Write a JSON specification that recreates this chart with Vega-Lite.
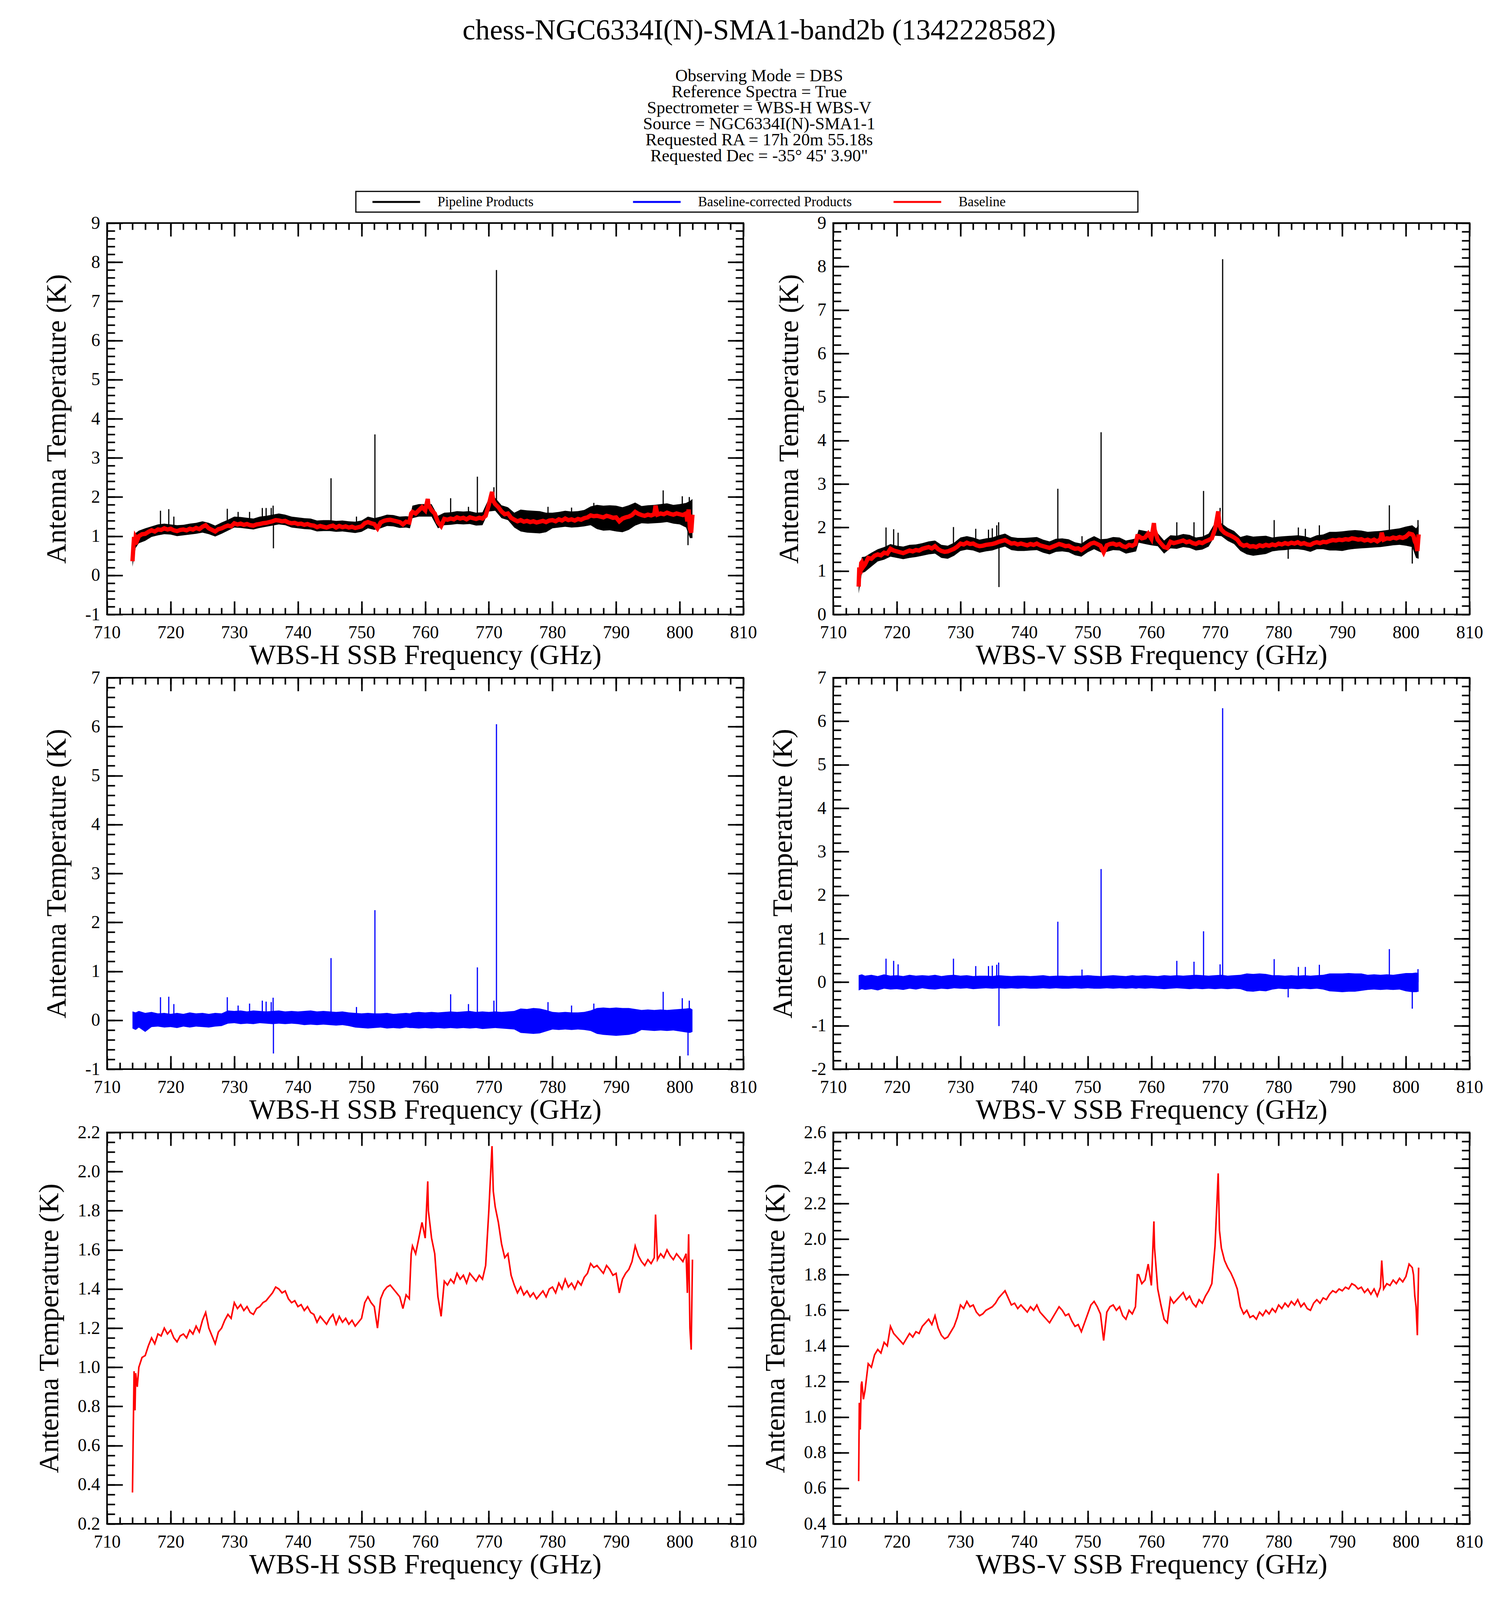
{
  "$schema": "https://vega.github.io/schema/vega-lite/v6.json",
  "background": "white",
  "padding": {"left": 88, "top": 41, "right": 40, "bottom": 30},
  "title": {
    "text": "chess-NGC6334I(N)-SMA1-band2b (1342228582)",
    "subtitle": [
      "Observing Mode = DBS",
      "Reference Spectra = True",
      "Spectrometer = WBS-H WBS-V",
      "Source = NGC6334I(N)-SMA1-1",
      "Requested RA = 17h 20m 55.18s",
      "Requested Dec = -35° 45' 3.90\""
    ],
    "anchor": "middle",
    "font": "Liberation Serif",
    "fontSize": 74,
    "fontWeight": "normal",
    "color": "black",
    "subtitleFont": "Liberation Serif",
    "subtitleFontSize": 44,
    "subtitleLineHeight": 41,
    "subtitleColor": "black",
    "subtitlePadding": 56,
    "offset": 66
  },
  "datasets": {
    "base": [
      {"f":714,"h":0.36,"v":0.64},{"f":714.1,"h":0.62,"v":1.08},{"f":714.25,"h":0.98,"v":0.93},{"f":714.4,"h":0.78,"v":1.18},{"f":714.5,"h":0.97,"v":1.2},{"f":714.75,"h":0.9,"v":1.1},
      {"f":715,"h":1.0,"v":1.15},{"f":715.5,"h":1.05,"v":1.3},{"f":716,"h":1.06,"v":1.28},{"f":716.5,"h":1.11,"v":1.35},{"f":717,"h":1.15,"v":1.38},{"f":717.5,"h":1.12,"v":1.36},
      {"f":718,"h":1.17,"v":1.42},{"f":718.5,"h":1.16,"v":1.4},{"f":719,"h":1.2,"v":1.51},{"f":719.5,"h":1.17,"v":1.47},{"f":720,"h":1.19,"v":1.45},{"f":720.5,"h":1.15,"v":1.43},
      {"f":721,"h":1.13,"v":1.41},{"f":721.5,"h":1.16,"v":1.44},{"f":722,"h":1.17,"v":1.47},{"f":722.5,"h":1.15,"v":1.45},{"f":723,"h":1.19,"v":1.48},{"f":723.5,"h":1.17,"v":1.47},
      {"f":724,"h":1.21,"v":1.51},{"f":724.5,"h":1.18,"v":1.53},{"f":725,"h":1.24,"v":1.55},{"f":725.5,"h":1.28,"v":1.52},{"f":726,"h":1.2,"v":1.57},{"f":726.5,"h":1.16,"v":1.5},
      {"f":727,"h":1.12,"v":1.46},{"f":727.5,"h":1.18,"v":1.44},{"f":728,"h":1.2,"v":1.45},{"f":728.5,"h":1.24,"v":1.48},{"f":729,"h":1.27,"v":1.51},{"f":729.5,"h":1.25,"v":1.56},
      {"f":730,"h":1.33,"v":1.63},{"f":730.5,"h":1.3,"v":1.61},{"f":731,"h":1.32,"v":1.65},{"f":731.5,"h":1.29,"v":1.62},{"f":732,"h":1.31,"v":1.63},{"f":732.5,"h":1.28,"v":1.59},
      {"f":733,"h":1.27,"v":1.57},{"f":733.5,"h":1.3,"v":1.58},{"f":734,"h":1.31,"v":1.6},{"f":734.5,"h":1.33,"v":1.61},{"f":735,"h":1.34,"v":1.62},{"f":735.5,"h":1.36,"v":1.64},
      {"f":736,"h":1.38,"v":1.67},{"f":736.5,"h":1.41,"v":1.69},{"f":737,"h":1.4,"v":1.71},{"f":737.5,"h":1.38,"v":1.67},{"f":738,"h":1.39,"v":1.63},{"f":738.5,"h":1.35,"v":1.64},
      {"f":739,"h":1.33,"v":1.61},{"f":739.5,"h":1.34,"v":1.63},{"f":740,"h":1.31,"v":1.61},{"f":740.5,"h":1.32,"v":1.59},{"f":741,"h":1.29,"v":1.62},{"f":741.5,"h":1.31,"v":1.6},
      {"f":742,"h":1.28,"v":1.63},{"f":742.5,"h":1.27,"v":1.59},{"f":743,"h":1.23,"v":1.57},{"f":743.5,"h":1.26,"v":1.55},{"f":744,"h":1.24,"v":1.53},{"f":744.5,"h":1.22,"v":1.56},
      {"f":745,"h":1.25,"v":1.59},{"f":745.5,"h":1.27,"v":1.62},{"f":746,"h":1.22,"v":1.6},{"f":746.5,"h":1.26,"v":1.57},{"f":747,"h":1.23,"v":1.58},{"f":747.5,"h":1.25,"v":1.54},
      {"f":748,"h":1.22,"v":1.51},{"f":748.5,"h":1.24,"v":1.52},{"f":749,"h":1.21,"v":1.48},{"f":749.5,"h":1.23,"v":1.53},{"f":750,"h":1.25,"v":1.58},{"f":750.5,"h":1.33,"v":1.63},
      {"f":751,"h":1.36,"v":1.65},{"f":751.5,"h":1.33,"v":1.62},{"f":752,"h":1.31,"v":1.58},{"f":752.5,"h":1.2,"v":1.43},{"f":753,"h":1.35,"v":1.59},{"f":753.5,"h":1.39,"v":1.62},
      {"f":754,"h":1.41,"v":1.63},{"f":754.5,"h":1.42,"v":1.6},{"f":755,"h":1.4,"v":1.62},{"f":755.5,"h":1.38,"v":1.57},{"f":756,"h":1.36,"v":1.55},{"f":756.5,"h":1.3,"v":1.6},
      {"f":757,"h":1.37,"v":1.58},{"f":757.5,"h":1.35,"v":1.62},{"f":757.8,"h":1.58,"v":1.8},{"f":758,"h":1.62,"v":1.8},{"f":758.5,"h":1.58,"v":1.75},{"f":759,"h":1.66,"v":1.77},
      {"f":759.5,"h":1.74,"v":1.86},{"f":760,"h":1.66,"v":1.74},{"f":760.4,"h":1.95,"v":2.1},{"f":760.5,"h":1.8,"v":1.95},{"f":761,"h":1.66,"v":1.72},{"f":761.5,"h":1.58,"v":1.63},
      {"f":762,"h":1.36,"v":1.55},{"f":762.5,"h":1.26,"v":1.53},{"f":763,"h":1.44,"v":1.67},{"f":763.5,"h":1.42,"v":1.64},{"f":764,"h":1.45,"v":1.66},{"f":764.5,"h":1.43,"v":1.68},
      {"f":765,"h":1.48,"v":1.7},{"f":765.5,"h":1.45,"v":1.66},{"f":766,"h":1.47,"v":1.68},{"f":766.5,"h":1.43,"v":1.64},{"f":767,"h":1.48,"v":1.62},{"f":767.5,"h":1.46,"v":1.66},
      {"f":768,"h":1.44,"v":1.64},{"f":768.5,"h":1.47,"v":1.68},{"f":769,"h":1.45,"v":1.71},{"f":769.5,"h":1.52,"v":1.75},{"f":770,"h":1.8,"v":1.96},{"f":770.3,"h":2.0,"v":2.2},
      {"f":770.5,"h":2.13,"v":2.37},{"f":770.7,"h":1.9,"v":2.05},{"f":771,"h":1.82,"v":1.95},{"f":771.5,"h":1.74,"v":1.88},{"f":772,"h":1.63,"v":1.84},{"f":772.5,"h":1.56,"v":1.81},
      {"f":773,"h":1.58,"v":1.77},{"f":773.5,"h":1.47,"v":1.72},{"f":774,"h":1.42,"v":1.62},{"f":774.5,"h":1.38,"v":1.58},{"f":775,"h":1.41,"v":1.6},{"f":775.5,"h":1.37,"v":1.56},
      {"f":776,"h":1.39,"v":1.57},{"f":776.5,"h":1.36,"v":1.55},{"f":777,"h":1.38,"v":1.59},{"f":777.5,"h":1.35,"v":1.57},{"f":778,"h":1.37,"v":1.6},{"f":778.5,"h":1.39,"v":1.58},
      {"f":779,"h":1.36,"v":1.61},{"f":779.5,"h":1.4,"v":1.59},{"f":780,"h":1.41,"v":1.63},{"f":780.5,"h":1.38,"v":1.61},{"f":781,"h":1.43,"v":1.64},{"f":781.5,"h":1.4,"v":1.62},
      {"f":782,"h":1.45,"v":1.65},{"f":782.5,"h":1.41,"v":1.63},{"f":783,"h":1.43,"v":1.66},{"f":783.5,"h":1.4,"v":1.62},{"f":784,"h":1.44,"v":1.64},{"f":784.5,"h":1.42,"v":1.61},
      {"f":785,"h":1.46,"v":1.6},{"f":785.5,"h":1.48,"v":1.64},{"f":786,"h":1.53,"v":1.66},{"f":786.5,"h":1.51,"v":1.64},{"f":787,"h":1.52,"v":1.67},{"f":787.5,"h":1.5,"v":1.66},
      {"f":788,"h":1.48,"v":1.69},{"f":788.5,"h":1.52,"v":1.71},{"f":789,"h":1.5,"v":1.7},{"f":789.5,"h":1.47,"v":1.72},{"f":790,"h":1.48,"v":1.71},{"f":790.5,"h":1.38,"v":1.73},
      {"f":791,"h":1.45,"v":1.72},{"f":791.5,"h":1.48,"v":1.75},{"f":792,"h":1.5,"v":1.74},{"f":792.5,"h":1.54,"v":1.72},{"f":793,"h":1.62,"v":1.73},{"f":793.5,"h":1.57,"v":1.7},
      {"f":794,"h":1.54,"v":1.72},{"f":794.5,"h":1.52,"v":1.69},{"f":795,"h":1.55,"v":1.72},{"f":795.5,"h":1.53,"v":1.68},{"f":796,"h":1.56,"v":1.73},{"f":796.2,"h":1.78,"v":1.88},
      {"f":796.5,"h":1.55,"v":1.72},{"f":797,"h":1.58,"v":1.75},{"f":797.5,"h":1.56,"v":1.74},{"f":798,"h":1.6,"v":1.77},{"f":798.5,"h":1.57,"v":1.75},{"f":799,"h":1.55,"v":1.78},
      {"f":799.5,"h":1.58,"v":1.76},{"f":800,"h":1.56,"v":1.79},{"f":800.5,"h":1.54,"v":1.86},{"f":801,"h":1.58,"v":1.84},{"f":801.2,"h":1.38,"v":1.8},{"f":801.4,"h":1.68,"v":1.68},
      {"f":801.6,"h":1.2,"v":1.62},{"f":801.8,"h":1.09,"v":1.46},{"f":802,"h":1.55,"v":1.84}
    ],
    "noise": [
      {"f":714,"hl":0.22,"hh":0.55,"vl":0.48,"vh":0.95,"cl":-0.17,"ch":0.18,"dl":-0.19,"dh":0.16},
      {"f":714.5,"hl":0.7,"hh":1.08,"vl":0.95,"vh":1.32,"cl":-0.2,"ch":0.16,"dl":-0.16,"dh":0.18},
      {"f":715,"hl":0.82,"hh":1.14,"vl":0.98,"vh":1.33,"cl":-0.15,"ch":0.19,"dl":-0.18,"dh":0.15},
      {"f":716,"hl":0.88,"hh":1.2,"vl":1.1,"vh":1.42,"cl":-0.24,"ch":0.15,"dl":-0.16,"dh":0.17},
      {"f":717,"hl":0.98,"hh":1.25,"vl":1.22,"vh":1.5,"cl":-0.14,"ch":0.17,"dl":-0.19,"dh":0.14},
      {"f":718,"hl":1.02,"hh":1.3,"vl":1.26,"vh":1.55,"cl":-0.13,"ch":0.14,"dl":-0.15,"dh":0.18},
      {"f":719,"hl":1.05,"hh":1.32,"vl":1.33,"vh":1.62,"cl":-0.15,"ch":0.15,"dl":-0.17,"dh":0.15},
      {"f":720,"hl":1.04,"hh":1.3,"vl":1.3,"vh":1.58,"cl":-0.14,"ch":0.13,"dl":-0.16,"dh":0.16},
      {"f":721,"hl":1.0,"hh":1.28,"vl":1.27,"vh":1.56,"cl":-0.16,"ch":0.15,"dl":-0.18,"dh":0.14},
      {"f":722,"hl":1.02,"hh":1.29,"vl":1.3,"vh":1.6,"cl":-0.13,"ch":0.13,"dl":-0.15,"dh":0.17},
      {"f":723,"hl":1.04,"hh":1.32,"vl":1.32,"vh":1.61,"cl":-0.15,"ch":0.16,"dl":-0.17,"dh":0.15},
      {"f":724,"hl":1.06,"hh":1.34,"vl":1.35,"vh":1.64,"cl":-0.13,"ch":0.14,"dl":-0.14,"dh":0.16},
      {"f":725,"hl":1.09,"hh":1.38,"vl":1.38,"vh":1.68,"cl":-0.14,"ch":0.15,"dl":-0.16,"dh":0.15},
      {"f":726,"hl":1.05,"hh":1.34,"vl":1.4,"vh":1.7,"cl":-0.15,"ch":0.13,"dl":-0.17,"dh":0.17},
      {"f":727,"hl":0.99,"hh":1.27,"vl":1.3,"vh":1.6,"cl":-0.13,"ch":0.15,"dl":-0.15,"dh":0.14},
      {"f":728,"hl":1.06,"hh":1.35,"vl":1.28,"vh":1.58,"cl":-0.12,"ch":0.14,"dl":-0.16,"dh":0.16},
      {"f":729,"hl":1.14,"hh":1.42,"vl":1.35,"vh":1.65,"cl":-0.07,"ch":0.2,"dl":-0.14,"dh":0.17},
      {"f":730,"hl":1.22,"hh":1.5,"vl":1.46,"vh":1.77,"cl":-0.06,"ch":0.19,"dl":-0.15,"dh":0.15},
      {"f":731,"hl":1.21,"hh":1.49,"vl":1.49,"vh":1.8,"cl":-0.08,"ch":0.2,"dl":-0.14,"dh":0.16},
      {"f":732,"hl":1.19,"hh":1.47,"vl":1.47,"vh":1.77,"cl":-0.07,"ch":0.18,"dl":-0.16,"dh":0.14},
      {"f":733,"hl":1.17,"hh":1.45,"vl":1.42,"vh":1.72,"cl":-0.08,"ch":0.2,"dl":-0.15,"dh":0.15},
      {"f":734,"hl":1.21,"hh":1.5,"vl":1.45,"vh":1.75,"cl":-0.06,"ch":0.19,"dl":-0.14,"dh":0.15},
      {"f":735,"hl":1.24,"hh":1.52,"vl":1.47,"vh":1.77,"cl":-0.07,"ch":0.18,"dl":-0.15,"dh":0.14},
      {"f":736,"hl":1.27,"hh":1.55,"vl":1.52,"vh":1.82,"cl":-0.08,"ch":0.19,"dl":-0.14,"dh":0.16},
      {"f":737,"hl":1.3,"hh":1.58,"vl":1.56,"vh":1.86,"cl":-0.07,"ch":0.2,"dl":-0.15,"dh":0.15},
      {"f":738,"hl":1.28,"hh":1.55,"vl":1.48,"vh":1.78,"cl":-0.08,"ch":0.18,"dl":-0.14,"dh":0.14},
      {"f":739,"hl":1.22,"hh":1.5,"vl":1.46,"vh":1.76,"cl":-0.07,"ch":0.19,"dl":-0.15,"dh":0.15},
      {"f":740,"hl":1.2,"hh":1.48,"vl":1.46,"vh":1.76,"cl":-0.08,"ch":0.18,"dl":-0.14,"dh":0.15},
      {"f":741,"hl":1.18,"hh":1.46,"vl":1.47,"vh":1.77,"cl":-0.1,"ch":0.19,"dl":-0.15,"dh":0.14},
      {"f":742,"hl":1.17,"hh":1.45,"vl":1.48,"vh":1.78,"cl":-0.09,"ch":0.2,"dl":-0.15,"dh":0.15},
      {"f":743,"hl":1.12,"hh":1.4,"vl":1.42,"vh":1.72,"cl":-0.1,"ch":0.18,"dl":-0.14,"dh":0.16},
      {"f":744,"hl":1.13,"hh":1.41,"vl":1.38,"vh":1.68,"cl":-0.09,"ch":0.19,"dl":-0.15,"dh":0.14},
      {"f":745,"hl":1.13,"hh":1.41,"vl":1.44,"vh":1.74,"cl":-0.1,"ch":0.18,"dl":-0.14,"dh":0.15},
      {"f":746,"hl":1.11,"hh":1.39,"vl":1.45,"vh":1.75,"cl":-0.11,"ch":0.17,"dl":-0.15,"dh":0.15},
      {"f":747,"hl":1.12,"hh":1.4,"vl":1.43,"vh":1.73,"cl":-0.1,"ch":0.18,"dl":-0.15,"dh":0.14},
      {"f":748,"hl":1.1,"hh":1.38,"vl":1.36,"vh":1.66,"cl":-0.12,"ch":0.16,"dl":-0.14,"dh":0.15},
      {"f":749,"hl":1.08,"hh":1.37,"vl":1.33,"vh":1.63,"cl":-0.15,"ch":0.15,"dl":-0.15,"dh":0.15},
      {"f":750,"hl":1.11,"hh":1.4,"vl":1.43,"vh":1.73,"cl":-0.16,"ch":0.14,"dl":-0.14,"dh":0.16},
      {"f":751,"hl":1.2,"hh":1.5,"vl":1.5,"vh":1.8,"cl":-0.17,"ch":0.15,"dl":-0.15,"dh":0.15},
      {"f":752,"hl":1.16,"hh":1.46,"vl":1.43,"vh":1.73,"cl":-0.16,"ch":0.14,"dl":-0.15,"dh":0.14},
      {"f":753,"hl":1.2,"hh":1.5,"vl":1.44,"vh":1.74,"cl":-0.15,"ch":0.14,"dl":-0.14,"dh":0.15},
      {"f":754,"hl":1.26,"hh":1.55,"vl":1.48,"vh":1.78,"cl":-0.17,"ch":0.15,"dl":-0.15,"dh":0.16},
      {"f":755,"hl":1.25,"hh":1.54,"vl":1.47,"vh":1.77,"cl":-0.16,"ch":0.13,"dl":-0.14,"dh":0.15},
      {"f":756,"hl":1.21,"hh":1.5,"vl":1.4,"vh":1.7,"cl":-0.17,"ch":0.14,"dl":-0.15,"dh":0.14},
      {"f":757,"hl":1.22,"hh":1.51,"vl":1.43,"vh":1.73,"cl":-0.15,"ch":0.15,"dl":-0.14,"dh":0.16},
      {"f":757.6,"hl":1.2,"hh":1.5,"vl":1.45,"vh":1.75,"cl":-0.16,"ch":0.14,"dl":-0.15,"dh":0.15},
      {"f":758,"hl":1.46,"hh":1.78,"vl":1.65,"vh":1.95,"cl":-0.16,"ch":0.16,"dl":-0.14,"dh":0.15},
      {"f":759,"hl":1.5,"hh":1.82,"vl":1.62,"vh":1.92,"cl":-0.17,"ch":0.17,"dl":-0.15,"dh":0.16},
      {"f":760,"hl":1.5,"hh":1.82,"vl":1.59,"vh":1.89,"cl":-0.16,"ch":0.16,"dl":-0.14,"dh":0.15},
      {"f":761,"hl":1.5,"hh":1.82,"vl":1.57,"vh":1.87,"cl":-0.17,"ch":0.17,"dl":-0.15,"dh":0.14},
      {"f":762,"hl":1.2,"hh":1.52,"vl":1.4,"vh":1.7,"cl":-0.16,"ch":0.16,"dl":-0.16,"dh":0.16},
      {"f":763,"hl":1.28,"hh":1.6,"vl":1.52,"vh":1.82,"cl":-0.17,"ch":0.17,"dl":-0.15,"dh":0.15},
      {"f":764,"hl":1.29,"hh":1.61,"vl":1.51,"vh":1.81,"cl":-0.16,"ch":0.18,"dl":-0.14,"dh":0.16},
      {"f":765,"hl":1.31,"hh":1.64,"vl":1.55,"vh":1.85,"cl":-0.17,"ch":0.17,"dl":-0.15,"dh":0.15},
      {"f":766,"hl":1.3,"hh":1.63,"vl":1.53,"vh":1.83,"cl":-0.16,"ch":0.18,"dl":-0.16,"dh":0.16},
      {"f":767,"hl":1.31,"hh":1.64,"vl":1.47,"vh":1.77,"cl":-0.17,"ch":0.19,"dl":-0.15,"dh":0.17},
      {"f":768,"hl":1.27,"hh":1.6,"vl":1.49,"vh":1.79,"cl":-0.16,"ch":0.17,"dl":-0.16,"dh":0.16},
      {"f":769,"hl":1.28,"hh":1.61,"vl":1.56,"vh":1.86,"cl":-0.18,"ch":0.18,"dl":-0.15,"dh":0.15},
      {"f":770,"hl":1.63,"hh":1.96,"vl":1.81,"vh":2.11,"cl":-0.17,"ch":0.17,"dl":-0.16,"dh":0.16},
      {"f":771,"hl":1.65,"hh":1.98,"vl":1.8,"vh":2.1,"cl":-0.16,"ch":0.18,"dl":-0.15,"dh":0.17},
      {"f":772,"hl":1.46,"hh":1.79,"vl":1.69,"vh":1.99,"cl":-0.17,"ch":0.17,"dl":-0.16,"dh":0.15},
      {"f":773,"hl":1.41,"hh":1.74,"vl":1.62,"vh":1.92,"cl":-0.18,"ch":0.18,"dl":-0.15,"dh":0.16},
      {"f":774,"hl":1.22,"hh":1.6,"vl":1.46,"vh":1.78,"cl":-0.19,"ch":0.19,"dl":-0.16,"dh":0.17},
      {"f":775,"hl":1.12,"hh":1.68,"vl":1.38,"vh":1.82,"cl":-0.26,"ch":0.24,"dl":-0.21,"dh":0.2},
      {"f":776,"hl":1.09,"hh":1.66,"vl":1.35,"vh":1.79,"cl":-0.27,"ch":0.23,"dl":-0.22,"dh":0.19},
      {"f":777,"hl":1.08,"hh":1.65,"vl":1.37,"vh":1.8,"cl":-0.28,"ch":0.25,"dl":-0.2,"dh":0.2},
      {"f":778,"hl":1.07,"hh":1.64,"vl":1.39,"vh":1.81,"cl":-0.27,"ch":0.24,"dl":-0.21,"dh":0.19},
      {"f":779,"hl":1.1,"hh":1.6,"vl":1.45,"vh":1.77,"cl":-0.23,"ch":0.21,"dl":-0.17,"dh":0.16},
      {"f":780,"hl":1.2,"hh":1.6,"vl":1.47,"vh":1.79,"cl":-0.19,"ch":0.17,"dl":-0.15,"dh":0.16},
      {"f":781,"hl":1.22,"hh":1.62,"vl":1.48,"vh":1.8,"cl":-0.2,"ch":0.16,"dl":-0.16,"dh":0.15},
      {"f":782,"hl":1.24,"hh":1.65,"vl":1.5,"vh":1.81,"cl":-0.19,"ch":0.17,"dl":-0.15,"dh":0.16},
      {"f":783,"hl":1.22,"hh":1.63,"vl":1.5,"vh":1.82,"cl":-0.2,"ch":0.16,"dl":-0.16,"dh":0.15},
      {"f":784,"hl":1.23,"hh":1.64,"vl":1.48,"vh":1.8,"cl":-0.19,"ch":0.16,"dl":-0.15,"dh":0.16},
      {"f":785,"hl":1.25,"hh":1.67,"vl":1.44,"vh":1.76,"cl":-0.2,"ch":0.17,"dl":-0.16,"dh":0.15},
      {"f":786,"hl":1.28,"hh":1.76,"vl":1.5,"vh":1.82,"cl":-0.22,"ch":0.2,"dl":-0.15,"dh":0.16},
      {"f":787,"hl":1.18,"hh":1.8,"vl":1.5,"vh":1.84,"cl":-0.28,"ch":0.25,"dl":-0.17,"dh":0.17},
      {"f":788,"hl":1.14,"hh":1.78,"vl":1.47,"vh":1.9,"cl":-0.3,"ch":0.26,"dl":-0.21,"dh":0.2},
      {"f":789,"hl":1.15,"hh":1.79,"vl":1.47,"vh":1.9,"cl":-0.31,"ch":0.25,"dl":-0.22,"dh":0.2},
      {"f":790,"hl":1.12,"hh":1.78,"vl":1.46,"vh":1.91,"cl":-0.32,"ch":0.26,"dl":-0.23,"dh":0.2},
      {"f":791,"hl":1.1,"hh":1.74,"vl":1.49,"vh":1.93,"cl":-0.31,"ch":0.25,"dl":-0.22,"dh":0.21},
      {"f":792,"hl":1.16,"hh":1.79,"vl":1.51,"vh":1.94,"cl":-0.3,"ch":0.25,"dl":-0.22,"dh":0.2},
      {"f":793,"hl":1.27,"hh":1.86,"vl":1.52,"vh":1.93,"cl":-0.27,"ch":0.23,"dl":-0.2,"dh":0.2},
      {"f":794,"hl":1.33,"hh":1.77,"vl":1.53,"vh":1.9,"cl":-0.2,"ch":0.21,"dl":-0.18,"dh":0.17},
      {"f":795,"hl":1.32,"hh":1.79,"vl":1.54,"vh":1.91,"cl":-0.21,"ch":0.22,"dl":-0.17,"dh":0.18},
      {"f":796,"hl":1.33,"hh":1.8,"vl":1.55,"vh":1.92,"cl":-0.22,"ch":0.21,"dl":-0.18,"dh":0.17},
      {"f":797,"hl":1.34,"hh":1.82,"vl":1.57,"vh":1.94,"cl":-0.21,"ch":0.22,"dl":-0.17,"dh":0.18},
      {"f":798,"hl":1.36,"hh":1.84,"vl":1.59,"vh":1.96,"cl":-0.22,"ch":0.21,"dl":-0.18,"dh":0.17},
      {"f":799,"hl":1.32,"hh":1.8,"vl":1.6,"vh":1.98,"cl":-0.21,"ch":0.22,"dl":-0.17,"dh":0.19},
      {"f":800,"hl":1.3,"hh":1.82,"vl":1.58,"vh":2.02,"cl":-0.23,"ch":0.23,"dl":-0.21,"dh":0.21},
      {"f":801,"hl":1.22,"hh":1.85,"vl":1.55,"vh":2.05,"cl":-0.25,"ch":0.24,"dl":-0.23,"dh":0.21},
      {"f":801.6,"hl":0.95,"hh":1.9,"vl":1.3,"vh":1.98,"cl":-0.26,"ch":0.25,"dl":-0.23,"dh":0.22},
      {"f":802,"hl":0.95,"hh":1.95,"vl":1.28,"vh":2.06,"cl":-0.24,"ch":0.22,"dl":-0.22,"dh":0.21}
    ],
    "lines": [
      {"f":718.4,"pol":"H","b":1.16,"p":1.65,"c":0.47},{"f":719.7,"pol":"H","b":1.17,"p":1.69,"c":0.48},
      {"f":720.5,"pol":"H","b":1.15,"p":1.5,"c":0.33},{"f":728.9,"pol":"H","b":1.27,"p":1.7,"c":0.47},
      {"f":730.6,"pol":"H","b":1.3,"p":1.62,"c":0.3},{"f":732.4,"pol":"H","b":1.29,"p":1.62,"c":0.34},
      {"f":734.4,"pol":"H","b":1.33,"p":1.72,"c":0.4},{"f":735.0,"pol":"H","b":1.34,"p":1.72,"c":0.38},
      {"f":735.8,"pol":"H","b":1.36,"p":1.72,"c":0.37},{"f":736.1,"pol":"H","b":1.38,"p":1.78,"c":0.46},
      {"f":736.15,"pol":"H","b":1.38,"p":0.69,"c":-0.68},{"f":745.2,"pol":"H","b":1.25,"p":2.48,"c":1.27},
      {"f":749.2,"pol":"H","b":1.22,"p":1.5,"c":0.27},{"f":752.1,"pol":"H","b":1.31,"p":3.6,"c":2.25},
      {"f":764.0,"pol":"H","b":1.45,"p":1.97,"c":0.53},{"f":766.8,"pol":"H","b":1.43,"p":1.75,"c":0.33},
      {"f":768.2,"pol":"H","b":1.45,"p":2.52,"c":1.08},{"f":770.8,"pol":"H","b":1.85,"p":2.25,"c":0.4},
      {"f":771.2,"pol":"H","b":1.78,"p":7.8,"c":6.05},{"f":779.3,"pol":"H","b":1.38,"p":1.75,"c":0.37},
      {"f":783.0,"pol":"H","b":1.43,"p":1.73,"c":0.3},{"f":786.5,"pol":"H","b":1.51,"p":1.85,"c":0.34},
      {"f":797.4,"pol":"H","b":1.57,"p":2.17,"c":0.58},{"f":800.4,"pol":"H","b":1.55,"p":2.02,"c":0.45},
      {"f":801.3,"pol":"H","b":1.4,"p":0.77,"c":-0.72},{"f":801.5,"pol":"H","b":1.6,"p":2.0,"c":0.4},
      {"f":718.3,"pol":"V","b":1.41,"p":2.0,"c":0.54},{"f":719.5,"pol":"V","b":1.47,"p":1.96,"c":0.49},
      {"f":720.2,"pol":"V","b":1.44,"p":1.88,"c":0.41},{"f":728.9,"pol":"V","b":1.5,"p":2.01,"c":0.54},
      {"f":732.4,"pol":"V","b":1.6,"p":1.97,"c":0.37},{"f":734.4,"pol":"V","b":1.61,"p":1.95,"c":0.37},
      {"f":735.0,"pol":"V","b":1.62,"p":1.98,"c":0.38},{"f":735.7,"pol":"V","b":1.64,"p":2.05,"c":0.4},
      {"f":736.0,"pol":"V","b":1.66,"p":2.12,"c":0.45},{"f":736.05,"pol":"V","b":1.66,"p":0.63,"c":-1.01},
      {"f":745.3,"pol":"V","b":1.6,"p":2.89,"c":1.39},{"f":749.1,"pol":"V","b":1.49,"p":1.8,"c":0.29},
      {"f":752.1,"pol":"V","b":1.57,"p":4.19,"c":2.6},{"f":764.0,"pol":"V","b":1.66,"p":2.12,"c":0.49},
      {"f":766.7,"pol":"V","b":1.63,"p":2.12,"c":0.47},{"f":768.2,"pol":"V","b":1.66,"p":2.84,"c":1.17},
      {"f":770.8,"pol":"V","b":2.0,"p":2.45,"c":0.41},{"f":771.2,"pol":"V","b":1.9,"p":8.17,"c":6.3},
      {"f":779.3,"pol":"V","b":1.6,"p":2.17,"c":0.53},{"f":781.5,"pol":"V","b":1.62,"p":1.28,"c":-0.35},
      {"f":783.1,"pol":"V","b":1.66,"p":2.0,"c":0.35},{"f":784.2,"pol":"V","b":1.63,"p":1.97,"c":0.35},
      {"f":786.4,"pol":"V","b":1.65,"p":2.05,"c":0.4},{"f":797.4,"pol":"V","b":1.75,"p":2.51,"c":0.76},
      {"f":801.0,"pol":"V","b":1.84,"p":1.17,"c":-0.61},{"f":801.9,"pol":"V","b":1.9,"p":2.17,"c":0.3}
    ],
    "dummy": [{"f": 760, "t": 1}]
  },
  "columns": 2,
  "bounds": "flush",
  "spacing": {"row": 162, "column": 230},
  "concat": [
    {
      "width": 1629, "height": 1002,
      "resolve": {"axis": {"x": "independent", "y": "independent"}},
      "layer": [
        {"data": {"name": "noise"}, "mark": {"type": "area", "color": "black"},
         "encoding": {
           "x": {"field": "f", "type": "quantitative", "scale": {"domain": [710, 810], "nice": false}, "axis": {"orient": "bottom", "title": "WBS-H SSB Frequency (GHz)", "tickCount": 10, "format": "d"}},
           "y": {"field": "hl", "type": "quantitative", "scale": {"domain": [-1, 9], "nice": false, "zero": false}, "axis": {"orient": "left", "title": "Antenna Temperature (K)", "tickCount": 10, "format": "d", "labelExpr": "replace(datum.label, '\u2212', '-')"}},
           "y2": {"field": "hh"}}},
        {"data": {"name": "lines"}, "transform": [{"filter": "datum.pol == 'H'"}], "mark": {"type": "rule", "color": "black", "strokeWidth": 3},
         "encoding": {
           "x": {"field": "f", "type": "quantitative", "scale": {"domain": [710, 810], "nice": false}, "axis": null},
           "y": {"field": "b", "type": "quantitative", "scale": {"domain": [-1, 9], "nice": false, "zero": false}, "axis": null},
           "y2": {"field": "p"}}},
        {"data": {"name": "base"}, "mark": {"type": "line", "strokeWidth": 11},
         "encoding": {
           "x": {"field": "f", "type": "quantitative", "scale": {"domain": [710, 810], "nice": false}, "axis": null},
           "y": {"field": "h", "type": "quantitative", "scale": {"domain": [-1, 9], "nice": false, "zero": false}, "axis": null},
           "color": {"datum": "Baseline", "type": "nominal",
             "scale": {"domain": ["Pipeline Products", "Baseline-corrected Products", "Baseline"], "range": ["black", "blue", "red"]},
             "legend": {"orient": "none", "legendX": 637, "legendY": -81, "direction": "horizontal", "columns": 3, "gridAlign": "all", "columnPadding": 72,
               "title": " ", "titleOrient": "right", "titlePadding": 330, "titleFontSize": 35,
               "symbolType": "M0.94,0H8.33", "symbolSize": 1089, "symbolStrokeWidth": 5,
               "labelFont": "Liberation Serif", "labelFontSize": 35, "labelColor": "black", "labelOffset": 163, "labelLimit": 1000, "padding": 8, "strokeColor": "black",
               "encode": {"legend": {"update": {"strokeWidth": {"value": 3}}}, "symbols": {"update": {"strokeWidth": {"value": 5}}}}}}}},
        {"data": {"name": "dummy"}, "mark": {"type": "point", "opacity": 0},
         "encoding": {
           "x": {"field": "f", "type": "quantitative", "scale": {"domain": [710, 810], "nice": false}, "axis": {"orient": "bottom", "labels": false, "title": null, "ticks": true, "tickSize": 34, "offset": -34, "tickCount": 10}},
           "y": {"field": "t", "type": "quantitative", "scale": {"domain": [-1, 9], "nice": false, "zero": false}, "axis": {"orient": "left", "labels": false, "title": null, "ticks": true, "tickSize": 40, "offset": -40, "tickCount": 10}}}},
        {"data": {"name": "dummy"}, "mark": {"type": "point", "opacity": 0},
         "encoding": {
           "x": {"field": "f", "type": "quantitative", "scale": {"domain": [710, 810], "nice": false}, "axis": {"orient": "bottom", "labels": false, "title": null, "ticks": true, "tickSize": 17, "offset": -17, "tickCount": 50}},
           "y": {"field": "t", "type": "quantitative", "scale": {"domain": [-1, 9], "nice": false, "zero": false}, "axis": {"orient": "left", "labels": false, "title": null, "ticks": true, "tickSize": 20, "offset": -20, "tickCount": 50}}}},
        {"data": {"name": "dummy"}, "mark": {"type": "point", "opacity": 0},
         "encoding": {
           "x": {"field": "f", "type": "quantitative", "scale": {"domain": [710, 810], "nice": false}, "axis": {"orient": "top", "labels": false, "title": null, "ticks": true, "tickSize": 34, "offset": -34, "tickCount": 10}},
           "y": {"field": "t", "type": "quantitative", "scale": {"domain": [-1, 9], "nice": false, "zero": false}, "axis": {"orient": "right", "labels": false, "title": null, "ticks": true, "tickSize": 40, "offset": -40, "tickCount": 10}}}},
        {"data": {"name": "dummy"}, "mark": {"type": "point", "opacity": 0},
         "encoding": {
           "x": {"field": "f", "type": "quantitative", "scale": {"domain": [710, 810], "nice": false}, "axis": {"orient": "top", "labels": false, "title": null, "ticks": true, "tickSize": 17, "offset": -17, "tickCount": 50}},
           "y": {"field": "t", "type": "quantitative", "scale": {"domain": [-1, 9], "nice": false, "zero": false}, "axis": {"orient": "right", "labels": false, "title": null, "ticks": true, "tickSize": 20, "offset": -20, "tickCount": 50}}}}
      ]
    },
    {
      "width": 1629, "height": 1002,
      "resolve": {"axis": {"x": "independent", "y": "independent"}},
      "layer": [
        {"data": {"name": "noise"}, "mark": {"type": "area", "color": "black"},
         "encoding": {
           "x": {"field": "f", "type": "quantitative", "scale": {"domain": [710, 810], "nice": false}, "axis": {"orient": "bottom", "title": "WBS-V SSB Frequency (GHz)", "tickCount": 10, "format": "d"}},
           "y": {"field": "vl", "type": "quantitative", "scale": {"domain": [0, 9], "nice": false, "zero": false}, "axis": {"orient": "left", "title": "Antenna Temperature (K)", "tickCount": 9, "format": "d"}},
           "y2": {"field": "vh"}}},
        {"data": {"name": "lines"}, "transform": [{"filter": "datum.pol == 'V'"}], "mark": {"type": "rule", "color": "black", "strokeWidth": 3},
         "encoding": {
           "x": {"field": "f", "type": "quantitative", "scale": {"domain": [710, 810], "nice": false}, "axis": null},
           "y": {"field": "b", "type": "quantitative", "scale": {"domain": [0, 9], "nice": false, "zero": false}, "axis": null},
           "y2": {"field": "p"}}},
        {"data": {"name": "base"}, "mark": {"type": "line", "color": "red", "strokeWidth": 11},
         "encoding": {
           "x": {"field": "f", "type": "quantitative", "scale": {"domain": [710, 810], "nice": false}, "axis": null},
           "y": {"field": "v", "type": "quantitative", "scale": {"domain": [0, 9], "nice": false, "zero": false}, "axis": null}}},
        {"data": {"name": "dummy"}, "mark": {"type": "point", "opacity": 0},
         "encoding": {
           "x": {"field": "f", "type": "quantitative", "scale": {"domain": [710, 810], "nice": false}, "axis": {"orient": "bottom", "labels": false, "title": null, "ticks": true, "tickSize": 34, "offset": -34, "tickCount": 10}},
           "y": {"field": "t", "type": "quantitative", "scale": {"domain": [0, 9], "nice": false, "zero": false}, "axis": {"orient": "left", "labels": false, "title": null, "ticks": true, "tickSize": 40, "offset": -40, "tickCount": 9}}}},
        {"data": {"name": "dummy"}, "mark": {"type": "point", "opacity": 0},
         "encoding": {
           "x": {"field": "f", "type": "quantitative", "scale": {"domain": [710, 810], "nice": false}, "axis": {"orient": "bottom", "labels": false, "title": null, "ticks": true, "tickSize": 17, "offset": -17, "tickCount": 50}},
           "y": {"field": "t", "type": "quantitative", "scale": {"domain": [0, 9], "nice": false, "zero": false}, "axis": {"orient": "left", "labels": false, "title": null, "ticks": true, "tickSize": 20, "offset": -20, "tickCount": 45}}}},
        {"data": {"name": "dummy"}, "mark": {"type": "point", "opacity": 0},
         "encoding": {
           "x": {"field": "f", "type": "quantitative", "scale": {"domain": [710, 810], "nice": false}, "axis": {"orient": "top", "labels": false, "title": null, "ticks": true, "tickSize": 34, "offset": -34, "tickCount": 10}},
           "y": {"field": "t", "type": "quantitative", "scale": {"domain": [0, 9], "nice": false, "zero": false}, "axis": {"orient": "right", "labels": false, "title": null, "ticks": true, "tickSize": 40, "offset": -40, "tickCount": 9}}}},
        {"data": {"name": "dummy"}, "mark": {"type": "point", "opacity": 0},
         "encoding": {
           "x": {"field": "f", "type": "quantitative", "scale": {"domain": [710, 810], "nice": false}, "axis": {"orient": "top", "labels": false, "title": null, "ticks": true, "tickSize": 17, "offset": -17, "tickCount": 50}},
           "y": {"field": "t", "type": "quantitative", "scale": {"domain": [0, 9], "nice": false, "zero": false}, "axis": {"orient": "right", "labels": false, "title": null, "ticks": true, "tickSize": 20, "offset": -20, "tickCount": 45}}}}
      ]
    },
    {
      "width": 1629, "height": 1002,
      "resolve": {"axis": {"x": "independent", "y": "independent"}},
      "layer": [
        {"data": {"name": "noise"}, "mark": {"type": "area", "color": "blue"},
         "encoding": {
           "x": {"field": "f", "type": "quantitative", "scale": {"domain": [710, 810], "nice": false}, "axis": {"orient": "bottom", "title": "WBS-H SSB Frequency (GHz)", "tickCount": 10, "format": "d"}},
           "y": {"field": "cl", "type": "quantitative", "scale": {"domain": [-1, 7], "nice": false, "zero": false}, "axis": {"orient": "left", "title": "Antenna Temperature (K)", "tickCount": 8, "format": "d", "labelExpr": "replace(datum.label, '\u2212', '-')"}},
           "y2": {"field": "ch"}}},
        {"data": {"name": "lines"}, "transform": [{"filter": "datum.pol == 'H'"}], "mark": {"type": "rule", "color": "blue", "strokeWidth": 3},
         "encoding": {
           "x": {"field": "f", "type": "quantitative", "scale": {"domain": [710, 810], "nice": false}, "axis": null},
           "y": {"field": "c", "type": "quantitative", "scale": {"domain": [-1, 7], "nice": false, "zero": false}, "axis": null},
           "y2": {"datum": 0}}},
        {"data": {"name": "dummy"}, "mark": {"type": "point", "opacity": 0},
         "encoding": {
           "x": {"field": "f", "type": "quantitative", "scale": {"domain": [710, 810], "nice": false}, "axis": {"orient": "bottom", "labels": false, "title": null, "ticks": true, "tickSize": 34, "offset": -34, "tickCount": 10}},
           "y": {"field": "t", "type": "quantitative", "scale": {"domain": [-1, 7], "nice": false, "zero": false}, "axis": {"orient": "left", "labels": false, "title": null, "ticks": true, "tickSize": 40, "offset": -40, "tickCount": 8}}}},
        {"data": {"name": "dummy"}, "mark": {"type": "point", "opacity": 0},
         "encoding": {
           "x": {"field": "f", "type": "quantitative", "scale": {"domain": [710, 810], "nice": false}, "axis": {"orient": "bottom", "labels": false, "title": null, "ticks": true, "tickSize": 17, "offset": -17, "tickCount": 50}},
           "y": {"field": "t", "type": "quantitative", "scale": {"domain": [-1, 7], "nice": false, "zero": false}, "axis": {"orient": "left", "labels": false, "title": null, "ticks": true, "tickSize": 20, "offset": -20, "tickCount": 40}}}},
        {"data": {"name": "dummy"}, "mark": {"type": "point", "opacity": 0},
         "encoding": {
           "x": {"field": "f", "type": "quantitative", "scale": {"domain": [710, 810], "nice": false}, "axis": {"orient": "top", "labels": false, "title": null, "ticks": true, "tickSize": 34, "offset": -34, "tickCount": 10}},
           "y": {"field": "t", "type": "quantitative", "scale": {"domain": [-1, 7], "nice": false, "zero": false}, "axis": {"orient": "right", "labels": false, "title": null, "ticks": true, "tickSize": 40, "offset": -40, "tickCount": 8}}}},
        {"data": {"name": "dummy"}, "mark": {"type": "point", "opacity": 0},
         "encoding": {
           "x": {"field": "f", "type": "quantitative", "scale": {"domain": [710, 810], "nice": false}, "axis": {"orient": "top", "labels": false, "title": null, "ticks": true, "tickSize": 17, "offset": -17, "tickCount": 50}},
           "y": {"field": "t", "type": "quantitative", "scale": {"domain": [-1, 7], "nice": false, "zero": false}, "axis": {"orient": "right", "labels": false, "title": null, "ticks": true, "tickSize": 20, "offset": -20, "tickCount": 40}}}}
      ]
    },
    {
      "width": 1629, "height": 1002,
      "resolve": {"axis": {"x": "independent", "y": "independent"}},
      "layer": [
        {"data": {"name": "noise"}, "mark": {"type": "area", "color": "blue"},
         "encoding": {
           "x": {"field": "f", "type": "quantitative", "scale": {"domain": [710, 810], "nice": false}, "axis": {"orient": "bottom", "title": "WBS-V SSB Frequency (GHz)", "tickCount": 10, "format": "d"}},
           "y": {"field": "dl", "type": "quantitative", "scale": {"domain": [-2, 7], "nice": false, "zero": false}, "axis": {"orient": "left", "title": "Antenna Temperature (K)", "tickCount": 9, "format": "d", "labelExpr": "replace(datum.label, '\u2212', '-')"}},
           "y2": {"field": "dh"}}},
        {"data": {"name": "lines"}, "transform": [{"filter": "datum.pol == 'V'"}], "mark": {"type": "rule", "color": "blue", "strokeWidth": 3},
         "encoding": {
           "x": {"field": "f", "type": "quantitative", "scale": {"domain": [710, 810], "nice": false}, "axis": null},
           "y": {"field": "c", "type": "quantitative", "scale": {"domain": [-2, 7], "nice": false, "zero": false}, "axis": null},
           "y2": {"datum": 0}}},
        {"data": {"name": "dummy"}, "mark": {"type": "point", "opacity": 0},
         "encoding": {
           "x": {"field": "f", "type": "quantitative", "scale": {"domain": [710, 810], "nice": false}, "axis": {"orient": "bottom", "labels": false, "title": null, "ticks": true, "tickSize": 34, "offset": -34, "tickCount": 10}},
           "y": {"field": "t", "type": "quantitative", "scale": {"domain": [-2, 7], "nice": false, "zero": false}, "axis": {"orient": "left", "labels": false, "title": null, "ticks": true, "tickSize": 40, "offset": -40, "tickCount": 9}}}},
        {"data": {"name": "dummy"}, "mark": {"type": "point", "opacity": 0},
         "encoding": {
           "x": {"field": "f", "type": "quantitative", "scale": {"domain": [710, 810], "nice": false}, "axis": {"orient": "bottom", "labels": false, "title": null, "ticks": true, "tickSize": 17, "offset": -17, "tickCount": 50}},
           "y": {"field": "t", "type": "quantitative", "scale": {"domain": [-2, 7], "nice": false, "zero": false}, "axis": {"orient": "left", "labels": false, "title": null, "ticks": true, "tickSize": 20, "offset": -20, "tickCount": 45}}}},
        {"data": {"name": "dummy"}, "mark": {"type": "point", "opacity": 0},
         "encoding": {
           "x": {"field": "f", "type": "quantitative", "scale": {"domain": [710, 810], "nice": false}, "axis": {"orient": "top", "labels": false, "title": null, "ticks": true, "tickSize": 34, "offset": -34, "tickCount": 10}},
           "y": {"field": "t", "type": "quantitative", "scale": {"domain": [-2, 7], "nice": false, "zero": false}, "axis": {"orient": "right", "labels": false, "title": null, "ticks": true, "tickSize": 40, "offset": -40, "tickCount": 9}}}},
        {"data": {"name": "dummy"}, "mark": {"type": "point", "opacity": 0},
         "encoding": {
           "x": {"field": "f", "type": "quantitative", "scale": {"domain": [710, 810], "nice": false}, "axis": {"orient": "top", "labels": false, "title": null, "ticks": true, "tickSize": 17, "offset": -17, "tickCount": 50}},
           "y": {"field": "t", "type": "quantitative", "scale": {"domain": [-2, 7], "nice": false, "zero": false}, "axis": {"orient": "right", "labels": false, "title": null, "ticks": true, "tickSize": 20, "offset": -20, "tickCount": 45}}}}
      ]
    },
    {
      "width": 1629, "height": 1002,
      "resolve": {"axis": {"x": "independent", "y": "independent"}},
      "layer": [
        {"data": {"name": "base"}, "mark": {"type": "line", "color": "red", "strokeWidth": 4},
         "encoding": {
           "x": {"field": "f", "type": "quantitative", "scale": {"domain": [710, 810], "nice": false}, "axis": {"orient": "bottom", "title": "WBS-H SSB Frequency (GHz)", "tickCount": 10, "format": "d"}},
           "y": {"field": "h", "type": "quantitative", "scale": {"domain": [0.2, 2.2], "nice": false, "zero": false}, "axis": {"orient": "left", "title": "Antenna Temperature (K)", "tickCount": 10, "format": ".1f"}}}},
        {"data": {"name": "dummy"}, "mark": {"type": "point", "opacity": 0},
         "encoding": {
           "x": {"field": "f", "type": "quantitative", "scale": {"domain": [710, 810], "nice": false}, "axis": {"orient": "bottom", "labels": false, "title": null, "ticks": true, "tickSize": 34, "offset": -34, "tickCount": 10}},
           "y": {"field": "t", "type": "quantitative", "scale": {"domain": [0.2, 2.2], "nice": false, "zero": false}, "axis": {"orient": "left", "labels": false, "title": null, "ticks": true, "tickSize": 40, "offset": -40, "tickCount": 10}}}},
        {"data": {"name": "dummy"}, "mark": {"type": "point", "opacity": 0},
         "encoding": {
           "x": {"field": "f", "type": "quantitative", "scale": {"domain": [710, 810], "nice": false}, "axis": {"orient": "bottom", "labels": false, "title": null, "ticks": true, "tickSize": 17, "offset": -17, "tickCount": 50}},
           "y": {"field": "t", "type": "quantitative", "scale": {"domain": [0.2, 2.2], "nice": false, "zero": false}, "axis": {"orient": "left", "labels": false, "title": null, "ticks": true, "tickSize": 20, "offset": -20, "tickCount": 40}}}},
        {"data": {"name": "dummy"}, "mark": {"type": "point", "opacity": 0},
         "encoding": {
           "x": {"field": "f", "type": "quantitative", "scale": {"domain": [710, 810], "nice": false}, "axis": {"orient": "top", "labels": false, "title": null, "ticks": true, "tickSize": 34, "offset": -34, "tickCount": 10}},
           "y": {"field": "t", "type": "quantitative", "scale": {"domain": [0.2, 2.2], "nice": false, "zero": false}, "axis": {"orient": "right", "labels": false, "title": null, "ticks": true, "tickSize": 40, "offset": -40, "tickCount": 10}}}},
        {"data": {"name": "dummy"}, "mark": {"type": "point", "opacity": 0},
         "encoding": {
           "x": {"field": "f", "type": "quantitative", "scale": {"domain": [710, 810], "nice": false}, "axis": {"orient": "top", "labels": false, "title": null, "ticks": true, "tickSize": 17, "offset": -17, "tickCount": 50}},
           "y": {"field": "t", "type": "quantitative", "scale": {"domain": [0.2, 2.2], "nice": false, "zero": false}, "axis": {"orient": "right", "labels": false, "title": null, "ticks": true, "tickSize": 20, "offset": -20, "tickCount": 40}}}}
      ]
    },
    {
      "width": 1629, "height": 1002,
      "resolve": {"axis": {"x": "independent", "y": "independent"}},
      "layer": [
        {"data": {"name": "base"}, "mark": {"type": "line", "color": "red", "strokeWidth": 4},
         "encoding": {
           "x": {"field": "f", "type": "quantitative", "scale": {"domain": [710, 810], "nice": false}, "axis": {"orient": "bottom", "title": "WBS-V SSB Frequency (GHz)", "tickCount": 10, "format": "d"}},
           "y": {"field": "v", "type": "quantitative", "scale": {"domain": [0.4, 2.6], "nice": false, "zero": false}, "axis": {"orient": "left", "title": "Antenna Temperature (K)", "tickCount": 11, "format": ".1f"}}}},
        {"data": {"name": "dummy"}, "mark": {"type": "point", "opacity": 0},
         "encoding": {
           "x": {"field": "f", "type": "quantitative", "scale": {"domain": [710, 810], "nice": false}, "axis": {"orient": "bottom", "labels": false, "title": null, "ticks": true, "tickSize": 34, "offset": -34, "tickCount": 10}},
           "y": {"field": "t", "type": "quantitative", "scale": {"domain": [0.4, 2.6], "nice": false, "zero": false}, "axis": {"orient": "left", "labels": false, "title": null, "ticks": true, "tickSize": 40, "offset": -40, "tickCount": 11}}}},
        {"data": {"name": "dummy"}, "mark": {"type": "point", "opacity": 0},
         "encoding": {
           "x": {"field": "f", "type": "quantitative", "scale": {"domain": [710, 810], "nice": false}, "axis": {"orient": "bottom", "labels": false, "title": null, "ticks": true, "tickSize": 17, "offset": -17, "tickCount": 50}},
           "y": {"field": "t", "type": "quantitative", "scale": {"domain": [0.4, 2.6], "nice": false, "zero": false}, "axis": {"orient": "left", "labels": false, "title": null, "ticks": true, "tickSize": 20, "offset": -20, "tickCount": 44}}}},
        {"data": {"name": "dummy"}, "mark": {"type": "point", "opacity": 0},
         "encoding": {
           "x": {"field": "f", "type": "quantitative", "scale": {"domain": [710, 810], "nice": false}, "axis": {"orient": "top", "labels": false, "title": null, "ticks": true, "tickSize": 34, "offset": -34, "tickCount": 10}},
           "y": {"field": "t", "type": "quantitative", "scale": {"domain": [0.4, 2.6], "nice": false, "zero": false}, "axis": {"orient": "right", "labels": false, "title": null, "ticks": true, "tickSize": 40, "offset": -40, "tickCount": 11}}}},
        {"data": {"name": "dummy"}, "mark": {"type": "point", "opacity": 0},
         "encoding": {
           "x": {"field": "f", "type": "quantitative", "scale": {"domain": [710, 810], "nice": false}, "axis": {"orient": "top", "labels": false, "title": null, "ticks": true, "tickSize": 17, "offset": -17, "tickCount": 50}},
           "y": {"field": "t", "type": "quantitative", "scale": {"domain": [0.4, 2.6], "nice": false, "zero": false}, "axis": {"orient": "right", "labels": false, "title": null, "ticks": true, "tickSize": 20, "offset": -20, "tickCount": 44}}}}
      ]
    }
  ],
  "config": {
    "view": {"stroke": "black", "strokeWidth": 4},
    "axis": {
      "domain": false, "grid": false, "ticks": false,
      "tickColor": "black", "tickWidth": 4,
      "labelFont": "Liberation Serif", "labelFontSize": 46, "labelColor": "black",
      "labelFlush": false, "labelOverlap": false, "labelPadding": 14,
      "titleFont": "Liberation Serif", "titleFontSize": 72, "titleFontWeight": "normal", "titleColor": "black"
    },
    "axisX": {"titlePadding": 0, "labelPadding": 24},
    "axisY": {"titlePadding": 35, "labelPadding": 18}
  }
}
